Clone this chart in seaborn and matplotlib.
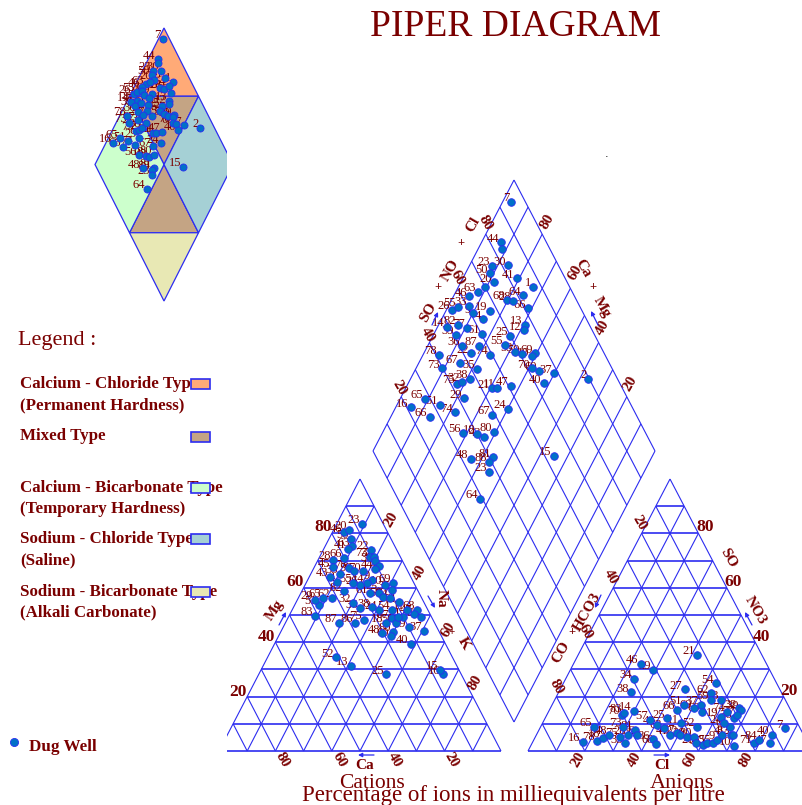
import matplotlib
matplotlib.use('Agg')
import matplotlib.pyplot as plt
import pandas as pd
import seaborn as sns

# Sample numbers and percentages
diamond_labels = ['7','44','','23','30','50','41','20','63','1','','46','68','28','64','66','26','55','33','9','19','4','82','13','12','14','39','77','61','25','36','87','55','22','74','53','59','69','10','78','73','67','35','70','60','37','2','40','75','32','38','21','11','47','29','65','51','16','66','74','24','67','56','18','43','80','48','81','88','23','15','64']
diamond_so4cl = [95.0,83.9,83.1,76.5,82.0,74.3,82.8,74.0,66.6,87.2,70.0,62.6,75.3,77.5,82.0,81.4,53.9,56.9,60.8,60.8,67.3,63.4,53.5,77.2,75.7,49.0,50.7,55.9,60.2,69.9,50.8,57.2,66.4,52.8,59.2,68.7,70.6,75.4,73.7,41.2,39.6,47.0,51.9,71.5,73.8,78.6,89.7,73.0,42.0,44.5,47.7,53.9,55.8,60.9,41.8,28.0,32.3,21.4,26.4,36.2,55.6,48.8,35.4,40.2,41.8,46.4,33.2,41.5,39.3,37.5,63.2,29.1]
diamond_camg = [97.0,93.1,91.4,91.9,86.5,91.3,80.9,88.2,92.1,73.5,90.6,94.5,80.5,78.0,75.4,71.2,98.1,96.4,92.7,90.0,84.4,85.2,93.0,69.4,68.8,96.8,92.1,89.5,83.1,72.7,87.9,81.7,72.8,83.2,76.2,68.0,65.2,60.6,61.2,94.2,90.9,85.3,78.4,59.0,55.8,50.0,37.0,52.0,82.7,81.1,78.9,69.2,67.6,63.2,77.6,91.2,84.8,94.7,86.3,78.1,59.9,64.6,71.4,66.2,63.4,60.6,63.9,56.2,56.8,54.9,35.0,53.2]

cation_labels = ['23','46','20','50','63','41','22','73','72','30','1','44','28','66','45','43','33','78','39','70','9','14','26','55','82','4','62','65','51','29','83','87','86','75','36','32','38','53','59','61','69','10','35','74','81','21','11','68','47','84','19','37','54','67','56','18','80','60','48','40','52','13','25','16','15','24','2']
cation_mg = [83.4,80.4,81.3,77.9,75.2,74.2,74.0,71.3,71.3,69.7,67.9,66.9,70.3,70.9,67.5,63.9,65.2,67.2,66.0,66.0,62.9,61.7,61.1,61.7,58.7,62.3,56.2,56.4,53.7,55.6,49.8,47.0,47.0,48.2,52.5,54.4,52.8,58.0,56.8,58.0,61.7,61.1,59.3,56.2,54.6,49.4,51.9,51.9,50.3,49.4,45.5,44.2,51.9,48.8,47.0,47.0,43.9,42.1,43.3,39.4,34.4,31.4,28.2,28.2,29.8,51.9,49.4]
cation_na = [8.9,4.1,5.6,7.9,9.6,8.8,16.9,17.9,19.4,20.5,22.9,21.9,5.4,9.0,6.6,7.4,10.3,12.5,15.0,17.9,22.7,21.5,19.5,16.8,15.0,10.6,11.9,8.8,8.6,6.2,9.1,19.2,24.7,27.4,23.8,20.4,27.7,27.9,29.9,24.5,31.0,28.3,31.6,32.5,36.6,40.4,40.6,44.2,44.1,46.9,44.6,50.5,35.3,36.8,39.1,35.6,39.9,39.8,36.3,48.3,24.3,31.1,45.1,65.2,63.5,30.9,38.9]

anion_labels = ['21','46','29','34','38','27','54','16','78','65','18','48','70','83','14','73','28','35','81','56','75','86','68','57','44','63','41','87','22','30','80','26','67','33','55','9','4','82','13','10','66','51','69','37','60','62','59','53','74','36','61','32','39','77','19','24','71','84','47','40','7','52','11','25']
anion_so4 = [35.3,32.0,29.8,26.5,21.6,22.7,24.9,3.4,3.8,9.0,4.9,5.9,13.3,13.9,14.7,9.0,5.9,2.8,7.7,5.9,5.3,4.3,2.6,11.4,9.6,8.3,5.9,6.5,5.9,5.3,5.3,2.8,2.2,2.8,2.8,4.0,5.9,5.9,5.9,1.8,15.1,16.9,15.7,16.9,14.5,21.2,18.8,18.8,14.5,12.0,9.0,15.7,15.1,13.3,12.6,10.2,2.8,4.0,2.8,5.9,8.3,9.0,10.2,12.0]
anion_cl = [41.9,23.7,29.0,23.9,25.5,43.8,53.8,17.5,22.5,18.7,23.8,25.7,26.3,27.0,29.8,29.1,32.4,32.8,33.9,35.4,29.8,41.7,43.9,37.3,40.6,43.6,47.2,49.2,50.7,53.4,55.7,57.6,60.6,61.7,63.7,64.6,65.4,68.4,69.2,71.6,44.9,46.4,50.5,52.3,54.1,53.7,54.9,58.4,62.9,66.5,66.8,66.4,67.3,67.0,61.5,63.9,78.2,79.3,83.7,82.8,86.3,55.1,48.6,42.9]

grid_steps = [10, 20, 30, 40, 50, 60, 70, 80, 90]
legend_rows = ['Calcium - Chloride Type', '(Permanent Hardness)', 'Mixed Type',
               'Calcium - Bicarbonate Type', '(Temporary Hardness)',
               'Sodium - Chloride Type', '(Saline)',
               'Sodium - Bicarbonate Type', '(Alkali Carbonate)']
legend_colors = ['#FFAA77', '#C4A484', '#CCFFCC', '#A5D0D5', '#E8E8B4']

BLUE = '#2c2cf0'
RED = '#7a0000'
DOT = '#0070c8'
SERIF = 'Liberation Serif'


# percent -> pixel for each panel
def cation_xy(top, right):
    return 219 + 2.82 * (right + top / 2), 751 - 2.72 * top


def anion_xy(top, right):
    return 528 + 2.84 * (right + top / 2), 751 - 2.72 * top


def diamond_xy(a, b):
    return 514 + 1.41 * (a - b), 722 - 2.71 * (a + b)


def small_xy(a, b):
    return 164 + 0.69 * (a - b), 301 - 1.365 * (a + b)


def draw_line(ax, to_xy, p, q, lw=0.8):
    x0, y0 = to_xy(*p)
    x1, y1 = to_xy(*q)
    ax.plot([x0, x1], [y0, y1], color=BLUE, lw=lw, solid_capstyle='butt', zorder=1)


def draw_triangle(ax, to_xy):
    for v in [0] + grid_steps:
        draw_line(ax, to_xy, (v, 0), (v, 100 - v), lw=1.2)
        draw_line(ax, to_xy, (0, v), (100 - v, v))
        draw_line(ax, to_xy, (100 - v, 0), (0, 100 - v))


def draw_points(ax, to_xy, labels, p, q, size=30):
    xs, ys = to_xy(pd.Series(p), pd.Series(q))
    df = pd.DataFrame({'x': xs, 'y': ys, 'label': labels})
    sns.scatterplot(data=df, x='x', y='y', ax=ax, s=size, color=DOT, edgecolor=BLUE,
                    linewidth=0.6, zorder=4, legend=False)
    for _, row in df.iterrows():
        ax.annotate(row['label'], (row['x'], row['y']), xytext=(-1.5, 0.5),
                    textcoords='offset points', ha='right', va='baseline',
                    fontsize=9, family=SERIF, color=RED, zorder=3, annotation_clip=True)


def label(ax, x, y, s, size=11, rot=0, bold=True):
    ax.text(x, y, s, fontsize=size, rotation=rot, family=SERIF, color=RED,
            weight='bold' if bold else 'normal', ha='center', va='center',
            rotation_mode='anchor', clip_on=True, zorder=5)


def arrow(ax, x0, y0, x1, y1):
    ax.annotate('', xy=(x1, y1), xytext=(x0, y0), zorder=5,
                arrowprops=dict(arrowstyle='-|>', color=BLUE, lw=0.9, mutation_scale=6,
                                shrinkA=0, shrinkB=0))


sns.set_style('white')
fig = plt.figure(figsize=(8.03, 8.05), dpi=100)

ax_left = fig.add_axes([0, 0, 227 / 803, 1])
ax_left.set_xlim(0, 227)
ax_left.set_ylim(805, 0)
ax = fig.add_axes([227 / 803, 0, 576 / 803, 1])
ax.set_xlim(227, 803)
ax.set_ylim(805, 0)

# Small classification diamond
zones = [
    ('#FFAA77', [(100, 100), (100, 50), (50, 100)]),
    ('#C4A484', [(100, 50), (50, 100), (50, 50)]),
    ('#C4A484', [(50, 50), (50, 0), (0, 50)]),
    ('#CCFFCC', [(50, 100), (0, 100), (0, 50), (50, 50)]),
    ('#A5D0D5', [(100, 50), (100, 0), (50, 0), (50, 50)]),
    ('#E8E8B4', [(50, 0), (0, 50), (0, 0)]),
]
for color, corners in zones:
    pts = [small_xy(a, b) for a, b in corners]
    ax_left.fill([p[0] for p in pts], [p[1] for p in pts], facecolor=color,
                 edgecolor=BLUE, lw=0.9, zorder=1)
draw_points(ax_left, small_xy, diamond_labels, diamond_so4cl, diamond_camg, size=26)

# Legend
label(ax_left, 57, 340, 'Legend :', size=16, bold=False)
legend_y = [384, 405, 436, 488, 509, 539, 560, 592, 612]
for s, y in zip(legend_rows, legend_y):
    ax_left.text(20, y, s, fontsize=12.2, family=SERIF, weight='bold', color=RED,
                 va='center', clip_on=True, zorder=2)
for c, y in zip(legend_colors, [384, 436.5, 487.5, 538.5, 591.5]):
    ax_left.fill([191, 210, 210, 191], [y - 5, y - 5, y + 5, y + 5], facecolor=c,
                 edgecolor=BLUE, lw=1.2, zorder=3)
ax_left.scatter([14], [742], s=34, color=DOT, edgecolor=BLUE, linewidth=0.6, zorder=4)
ax_left.text(29, 747, 'Dug Well', fontsize=12.3, family=SERIF, weight='bold', color=RED, va='center')

# Big diamond grid
for v in [0] + grid_steps + [100]:
    draw_line(ax, diamond_xy, (v, 0), (v, 100))
    draw_line(ax, diamond_xy, (0, v), (100, v))

draw_triangle(ax, cation_xy)
draw_triangle(ax, anion_xy)

draw_points(ax, diamond_xy, diamond_labels, diamond_so4cl, diamond_camg)
draw_points(ax, cation_xy, cation_labels, cation_mg, cation_na)
draw_points(ax, anion_xy, anion_labels, anion_so4, anion_cl)

# Title and captions
label(ax, 516, 27, 'PIPER DIAGRAM', size=27, bold=False)
ax.text(607, 154, '.', fontsize=8, color='black', ha='center', va='center')
label(ax, 513, 795, 'Percentage of ions in milliequivalents per litre', size=16.5, bold=False)
label(ax, 372, 783, 'Cations', size=15.5, bold=False)
label(ax, 682, 783, 'Anions', size=16, bold=False)

# Cation triangle axis text
for x, y, s in [(323, 527, '80'), (295, 582, '60'), (266, 637, '40'), (238, 692, '20')]:
    label(ax, x, y, s, size=12.5)
for x, y, s in [(391, 520, '20'), (420, 573, '40'), (448, 630, '60'), (475, 683, '80')]:
    label(ax, x, y, s, size=11, rot=60)
for x, y, s in [(282, 760, '80'), (339, 760, '60'), (395, 760, '40'), (451, 760, '20')]:
    label(ax, x, y, s, size=11, rot=-60)
label(ax, 275, 610, 'Mg', size=11, rot=55)
label(ax, 441, 598, 'Na', size=11, rot=-90)
label(ax, 464, 643, 'K', size=11, rot=-60)
label(ax, 452, 632, '+', size=8)
label(ax, 365, 765, 'Ca', size=11)
arrow(ax, 279, 625, 286, 612)
arrow(ax, 428, 596, 435, 608)
arrow(ax, 374, 755, 358, 755)

# Anion triangle axis text
for x, y, s in [(705, 527, '80'), (733, 582, '60'), (761, 637, '40'), (789, 691, '20')]:
    label(ax, x, y, s, size=12.5)
for x, y, s in [(639, 523, '20'), (611, 577, '40'), (585, 632, '60'), (556, 687, '80')]:
    label(ax, x, y, s, size=11, rot=-60)
for x, y, s in [(578, 760, '20'), (635, 760, '40'), (690, 760, '60'), (746, 760, '80')]:
    label(ax, x, y, s, size=11, rot=60)
label(ax, 728, 558, 'SO', size=11, rot=-60)
label(ax, 755, 610, 'NO3', size=11, rot=-60)
label(ax, 561, 652, 'CO', size=11, rot=60)
label(ax, 587, 612, 'HCO3', size=11, rot=60)
label(ax, 572, 632, '+', size=9)
label(ax, 662, 765, 'Cl', size=11)
arrow(ax, 601, 595, 595, 608)
arrow(ax, 752, 625, 745, 612)
arrow(ax, 654, 755, 670, 755)

# Diamond axis text
for x, y, s in [(547, 222, '80'), (575, 273, '60'), (603, 328, '40'), (630, 384, '20')]:
    label(ax, x, y, s, size=11, rot=60)
for x, y, s in [(485, 223, '80'), (457, 278, '60'), (428, 335, '40'), (399, 388, '20')]:
    label(ax, x, y, s, size=11, rot=-60)
label(ax, 428, 312, 'SO', size=11, rot=60)
label(ax, 438, 287, '+', size=9)
label(ax, 450, 270, 'NO', size=11, rot=60)
label(ax, 461, 243, '+', size=9)
label(ax, 473, 225, 'Cl', size=11, rot=60)
label(ax, 583, 268, 'Ca', size=11, rot=-60)
label(ax, 593, 287, '+', size=9)
label(ax, 602, 307, 'Mg', size=11, rot=-60)
arrow(ax, 432, 325, 438, 312)
arrow(ax, 598, 325, 591, 311)

for a in [ax_left, ax]:
    a.set_xlabel('')
    a.set_ylabel('')
    a.axis('off')

fig.savefig('out.png', dpi=100)
